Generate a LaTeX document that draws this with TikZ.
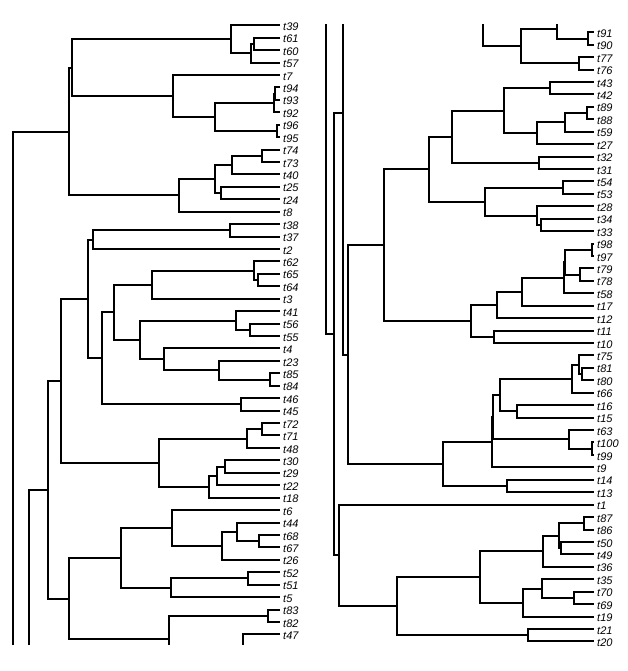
\documentclass[tikz,border=0pt]{standalone}
\usepackage{fontspec}
\setmainfont{Liberation Sans}
\usetikzlibrary{calc}
\tikzset{
  br/.style={line width=2pt, line cap=butt, line join=miter},
  lab/.style={anchor=west, inner sep=0pt, font=\itshape\fontsize{11}{12}\selectfont}
}
% #1 name, #2 x, #3 first child, #4 second child
\newcommand\jnode[4]{%
  \path let \p1=($(#3)!0.5!(#4)$) in (#2pt,\y1) coordinate (#1);
  \draw[br] (#3) -| (#1) |- (#4);}
\begin{document}
\begin{tikzpicture}[x=1pt,y=1pt]
\useasboundingbox (0,0) rectangle (627,-671);
% ---------- left panel leaves ----------
\foreach \n [count=\i from 0] in {t39,t61,t60,t57,t7,t94,t93,t92,t96,t95,t74,t73,t40,t25,t24,t8,t38,t37,t2,t62,t65,t64,t3,t41,t56,t55,t4,t23,t85,t84,t46,t45,t72,t71,t48,t30,t29,t22,t18,t6,t44,t68,t67,t26,t52,t51,t5,t83,t82,t47}{
  \coordinate (\n) at (280,{-(25.3+\i*12.43)});
  \node[lab] (L\n) at (283.0,{-(26.6+\i*12.43)}) {\n};
}
% ---------- right panel leaves ----------
\foreach \n [count=\i from 0] in {t91,t90,t77,t76,t43,t42,t89,t88,t59,t27,t32,t31,t54,t53,t28,t34,t33,t98,t97,t79,t78,t58,t17,t12,t11,t10,t75,t81,t80,t66,t16,t15,t63,t100,t99,t9,t14,t13,t1,t87,t86,t50,t49,t36,t35,t70,t69,t19,t21,t20}{
  \coordinate (\n) at (593.5,{-(32.3+\i*12.43)});
  \node[lab] (L\n) at (597.0,{-(33.6+\i*12.43)}) {\n};
}
% ---------- left tree ----------
\begin{scope}
\clip (0,0) rectangle (305,-644);
\jnode{a1}{254.3}{t61}{t60}
\jnode{a2}{250.7}{a1}{t57}
\jnode{a3}{230.7}{t39}{a2}
\jnode{a4}{275}{t94}{t93}
\jnode{a5}{273.7}{a4}{t92}
\jnode{a6}{277}{t96}{t95}
\jnode{a7}{215}{a5}{a6}
\jnode{a8}{173}{t7}{a7}
\jnode{aB}{72}{a3}{a8}
\jnode{a9}{262}{t74}{t73}
\jnode{a10}{231.7}{a9}{t40}
\jnode{a11}{220.7}{t25}{t24}
\jnode{a12}{215}{a10}{a11}
\jnode{a13}{179}{a12}{t8}
\jnode{aC}{69}{aB}{a13}
\jnode{b1}{230}{t38}{t37}
\jnode{b2}{92.7}{b1}{t2}
\jnode{b3}{257.7}{t65}{t64}
\jnode{b4}{254}{t62}{b3}
\jnode{b5}{152}{b4}{t3}
\jnode{b6}{249.7}{t56}{t55}
\jnode{b7}{236}{t41}{b6}
\jnode{b8}{270}{t85}{t84}
\jnode{b9}{219}{t23}{b8}
\jnode{b10}{164}{t4}{b9}
\jnode{b11}{140}{b7}{b10}
\jnode{b12}{114.3}{b5}{b11}
\jnode{b13}{240.7}{t46}{t45}
\jnode{b14}{101.7}{b12}{b13}
\jnode{b15}{87.7}{b2}{b14}
\jnode{b16}{262.3}{t72}{t71}
\jnode{b17}{246.7}{b16}{t48}
\jnode{b18}{225}{t30}{t29}
\jnode{b19}{217}{b18}{t22}
\jnode{b20}{209}{b19}{t18}
\jnode{b21}{158.7}{b17}{b20}
\jnode{b22}{60.7}{b15}{b21}
\jnode{c1}{258.7}{t68}{t67}
\jnode{c2}{237}{t44}{c1}
\jnode{c3}{221.7}{c2}{t26}
\jnode{c4}{171.7}{t6}{c3}
\jnode{c5}{247.7}{t52}{t51}
\jnode{c6}{170.7}{c5}{t5}
\jnode{c7}{120.7}{c4}{c6}
\jnode{c8}{268}{t83}{t82}
\coordinate (c9) at (169,-639.3);
\coordinate (c9b) at (169,-660);
\draw[br] (c8) -| (c9b);
\jnode{c10}{68.7}{c7}{c9}
\jnode{b23}{48.3}{b22}{c10}
\coordinate (d29) at (29,-660);
\draw[br] (b23) -| (d29);
\coordinate (d13) at (12.7,-660);
\draw[br] (aC) -| (d13);
\coordinate (t47b) at (242.7,-660);
\draw[br] (t47) -| (t47b);
\end{scope}
% ---------- right tree ----------
\begin{scope}
\clip (305,-25) rectangle (627,-671);
\coordinate (h0) at (593.5,-19.87);
\jnode{r1}{588}{t91}{t90}
\jnode{r2}{556.7}{h0}{r1}
\jnode{r3}{579}{t77}{t76}
\jnode{r4}{520.7}{r2}{r3}
\coordinate (r5t) at (482.7,-10);
\draw[br] (r4) -| (r5t);
\jnode{r6}{549.7}{t43}{t42}
\jnode{r7}{587.3}{t89}{t88}
\jnode{r8}{565}{r7}{t59}
\jnode{r9}{536.7}{r8}{t27}
\jnode{r10}{504}{r6}{r9}
\jnode{r11}{539}{t32}{t31}
\jnode{r12}{452.3}{r10}{r11}
\jnode{r13}{563}{t54}{t53}
\jnode{r14}{540.7}{t34}{t33}
\jnode{r15}{536.7}{t28}{r14}
\jnode{r16}{484.7}{r13}{r15}
\jnode{r17}{429.3}{r12}{r16}
\jnode{r18}{592.3}{t98}{t97}
\jnode{r19}{580}{t79}{t78}
\jnode{r20}{564.5}{r18}{r19}
\jnode{r21}{564}{r20}{t58}
\jnode{r22}{522}{r21}{t17}
\jnode{r23}{496.7}{r22}{t12}
\jnode{r24}{493.7}{t11}{t10}
\jnode{r25}{471}{r23}{r24}
\jnode{r26}{384}{r17}{r25}
\jnode{r27}{582.3}{t81}{t80}
\jnode{r28}{579}{t75}{r27}
\jnode{r29}{572}{r28}{t66}
\jnode{r30}{517}{t16}{t15}
\jnode{r31}{499.7}{r29}{r30}
\jnode{r32}{592.3}{t100}{t99}
\jnode{r33}{569}{t63}{r32}
\jnode{r34}{493.3}{r31}{r33}
\jnode{r35}{492.3}{r34}{t9}
\jnode{r36}{507}{t14}{t13}
\jnode{r37}{443.3}{r35}{r36}
\jnode{r38}{347.7}{r26}{r37}
\coordinate (Q) at (342.7,-113.3);
\coordinate (Qt) at (342.7,-10);
\draw[br] (r38) -| (Qt);
\jnode{r39}{584.3}{t87}{t86}
\jnode{r40}{561}{t50}{t49}
\jnode{r41}{559.3}{r39}{r40}
\jnode{r42}{542.5}{r41}{t36}
\jnode{r43}{574}{t70}{t69}
\jnode{r44}{542}{t35}{r43}
\jnode{r45}{523}{r44}{t19}
\jnode{r46}{480}{r42}{r45}
\jnode{r47}{528}{t21}{t20}
\jnode{r48}{396.7}{r46}{r47}
\jnode{r49}{339}{t1}{r48}
\jnode{rP}{334}{Q}{r49}
\coordinate (Ut) at (325.7,-10);
\draw[br] (rP) -| (Ut);
\end{scope}
\end{tikzpicture}
\end{document}
